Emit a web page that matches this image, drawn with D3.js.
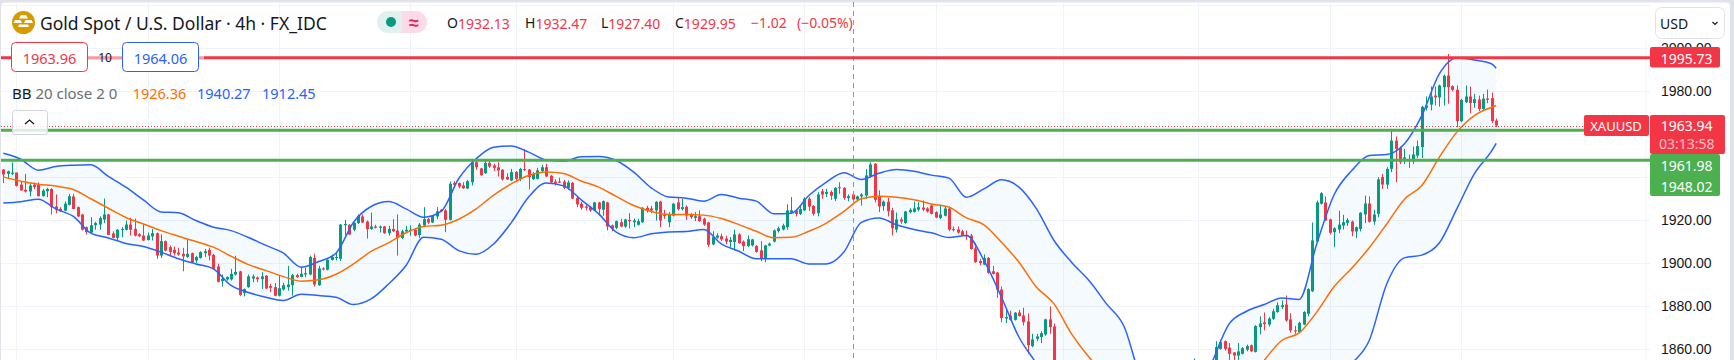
<!DOCTYPE html>
<html>
<head>
<meta charset="utf-8">
<script src="https://cdn.jsdelivr.net/npm/d3@7"></script>
<style>
html, body { margin: 0; padding: 0; background: #e0e3eb; overflow: hidden; }
svg { display: block; font-family: "Noto Sans", sans-serif; }
</style>
</head>
<body>
<script>
// CANDLES, one entry per 4h bar, null where the bar is below the visible range
const barOpen = [
1943.7,1941.7,1941.7,1942.3,1936.7,1934.3,1933.5,1936.6,1936.6,1931.3,
1933.6,1934.7,1926.5,1925.4,1924.6,1927.3,1931.2,1926.2,1922.8,1916.9,
1914.4,1917.8,1918.1,1920.5,1922.8,1914.0,1911.9,1915.7,1915.7,1918.1,
1916.1,1913.6,1913.0,1910.9,1912.6,1914.1,1903.7,1910.4,1907.6,1906.4,
1905.1,1904.5,1903.1,1904.8,1901.4,1902.6,1904.8,1906.4,1904.0,1898.6,
1891.8,1892.6,1892.6,1894.9,1896.3,1886.2,1889.0,1893.0,1893.5,1892.7,
1894.3,1889.5,1889.0,1885.0,1887.9,1889.0,1889.9,1894.6,1893.8,1894.9,
1894.9,1902.6,1889.9,1897.7,1897.1,1901.7,1902.6,1902.2,1917.8,1918.0,
1915.7,1918.8,1921.9,1919.5,1916.0,1917.2,1916.6,1917.2,1914.1,1916.1,
1915.3,1911.9,1914.9,1915.2,1915.7,1913.2,1917.7,1920.6,1919.1,1921.9,
1925.0,1924.7,1920.3,1937.4,1937.4,1936.3,1934.9,1937.8,1947.1,1944.2,
1942.0,1946.8,1945.6,1944.7,1943.6,1940.3,1938.6,1942.6,1939.4,1943.9,
1943.7,1939.2,1939.4,1943.0,1944.8,1940.8,1938.1,1938.1,1938.1,1935.2,
1937.5,1930.5,1927.8,1926.5,1926.2,1924.7,1928.4,1925.0,1928.4,1917.7,
1916.6,1919.2,1917.2,1920.3,1919.2,1918.0,1919.2,1925.9,1925.6,1924.7,
1928.8,1922.6,1919.2,1922.3,1928.4,1925.3,1926.4,1922.8,1921.2,1922.0,
1920.8,1919.1,1908.9,1912.0,1912.7,1911.6,1910.0,1910.0,1913.5,1910.2,
1908.1,1908.4,1908.2,1906.1,1902.3,1908.4,1910.2,1915.1,1915.8,1916.9,
1923.7,1924.7,1923.1,1924.7,1930.1,1926.8,1923.4,1933.6,1932.4,1933.3,
1930.1,1935.5,1935.2,1930.4,1932.1,1929.8,1931.2,1931.6,1940.5,1946.4,
1931.5,1926.7,1928.7,1924.7,1915.8,1920.5,1918.8,1923.9,1924.0,1925.1,
1926.0,1925.6,1927.0,1923.9,1921.2,1922.2,1925.6,1916.0,1915.8,1915.0,
1913.3,1913.0,1907.0,1901.1,1899.5,1902.6,1896.4,1895.8,1887.9,1874.4,
1875.7,1873.8,1877.2,1875.8,1873.0,1861.6,1865.0,1865.8,1867.0,1874.0,
1870.7,null,null,null,null,null,null,null,null,null,
null,null,null,null,null,null,null,null,null,null,
null,null,null,null,null,null,null,null,null,null,
null,null,1845.0,null,null,null,null,1850.0,1860.3,1863.9,
1860.9,1858.6,1857.2,1858.0,1859.9,1862.0,1858.9,1870.4,1872.6,1871.6,
1874.3,1877.4,1879.7,1880.9,1874.0,1868.9,1868.1,1871.6,1876.6,1887.1,
1910.2,1927.8,1928.4,1920.5,1914.6,1915.8,1917.7,1918.9,1919.5,1914.9,
1916.1,1922.8,1927.9,1919.5,1923.1,1940.2,1936.7,1944.0,1957.2,1953.8,
1948.7,1948.2,1947.6,1950.2,1954.1,1972.4,1973.9,1978.1,1977.3,1982.0,
1987.4,1982.5,1980.8,1966.2,1975.0,1977.7,1974.6,1976.3,1971.9,1976.7,
1976.9,1966.5];
const barHigh = [
1944.0,1943.2,1947.0,1942.3,1938.3,1941.7,1937.4,1937.7,1937.7,1934.7,
1935.2,1935.0,1932.1,1926.2,1928.8,1932.4,1932.4,1926.5,1923.1,1917.2,
1921.5,1919.4,1921.9,1930.2,1923.1,1915.0,1916.0,1916.9,1920.0,1921.2,
1920.9,1914.1,1918.1,1914.4,1916.1,1914.4,1913.5,1910.7,1908.4,1907.9,
1907.3,1907.3,1911.3,1905.1,1903.6,1905.7,1906.8,1907.3,1904.5,1899.9,
1894.9,1894.0,1897.5,1903.6,1896.6,1888.4,1894.9,1894.9,1894.0,1896.0,
1894.6,1890.6,1890.9,1894.4,1891.0,1898.9,1895.2,1895.2,1898.6,1898.0,
1903.7,1904.5,1898.9,1898.3,1902.0,1904.2,1905.3,1918.4,1920.3,1918.4,
1919.2,1922.8,1922.8,1920.0,1923.7,1918.0,1917.7,1917.5,1917.5,1920.6,
1922.8,1915.7,1917.5,1917.7,1916.0,1918.8,1926.2,1921.2,1922.5,1926.2,
1925.4,1925.4,1938.1,1938.3,1937.7,1937.8,1938.9,1948.7,1949.2,1944.5,
1947.9,1947.9,1946.4,1947.1,1943.9,1942.0,1944.0,1943.0,1944.5,1953.3,
1944.0,1942.5,1944.5,1945.9,1946.4,1941.2,1939.2,1939.9,1938.9,1938.6,
1938.0,1931.2,1928.7,1927.5,1926.8,1928.7,1928.7,1929.3,1928.7,1918.1,
1920.0,1920.8,1920.8,1923.4,1920.9,1920.8,1926.2,1926.8,1926.8,1929.0,
1929.2,1925.0,1923.9,1928.1,1930.5,1930.1,1927.0,1923.4,1923.9,1924.7,
1921.3,1919.4,1915.0,1914.1,1913.8,1912.9,1912.3,1915.7,1914.1,1910.7,
1913.0,1911.5,1908.5,1910.4,1908.7,1909.8,1915.8,1917.2,1918.5,1927.5,
1930.9,1925.3,1926.8,1930.9,1930.9,1927.1,1933.2,1934.7,1934.7,1934.0,
1935.5,1937.8,1935.5,1932.1,1932.4,1931.6,1932.7,1943.9,1947.0,1946.7,
1934.0,1929.3,1930.5,1925.9,1923.7,1921.5,1924.5,1925.7,1928.7,1928.5,
1929.3,1926.2,1927.3,1924.3,1927.3,1926.8,1926.5,1917.2,1917.2,1915.7,
1915.3,1913.8,1909.5,1902.2,1904.2,1903.0,1898.9,1896.1,1889.3,1878.5,
1878.0,1877.4,1878.5,1879.4,1876.8,1867.3,1867.3,1868.5,1874.3,1880.0,
1872.1,null,null,null,null,null,null,null,null,null,
null,null,null,null,null,null,null,null,null,null,
null,null,null,null,null,null,null,null,null,null,
null,null,1855.8,null,null,null,null,1863.9,1864.5,1864.2,
1863.0,1858.8,1863.0,1861.1,1862.3,1862.3,1871.3,1875.4,1877.2,1875.0,
1878.9,1881.9,1882.8,1885.1,1876.9,1871.0,1872.9,1877.8,1888.5,1919.1,
1929.3,1933.2,1931.2,1920.8,1916.9,1924.6,1922.6,1921.1,1920.0,1917.2,
1923.9,1931.6,1931.2,1925.0,1940.2,1941.7,1944.8,1962.6,1959.1,1954.4,
1953.3,1950.7,1954.4,1957.2,1973.3,1977.7,1982.3,1982.3,1983.2,1987.9,
1997.5,1982.8,1982.8,1976.6,1982.8,1982.3,1978.9,1978.1,1978.9,1980.9,
1979.5,1967.4];
const barLow = [
1937.4,1939.8,1941.1,1935.8,1934.0,1933.0,1931.3,1934.7,1931.2,1931.2,
1930.9,1922.8,1923.4,1924.0,1924.3,1927.0,1925.3,1921.6,1915.4,1913.5,
1914.1,1915.7,1915.7,1918.8,1913.2,1911.8,1910.7,1912.2,1915.4,1913.0,
1912.6,1912.2,1910.4,1910.7,1910.7,1902.2,1902.6,1905.7,1903.7,1903.7,
1903.6,1896.4,1902.6,1900.3,1900.2,1902.3,1903.0,1901.4,1897.4,1891.2,
1889.3,1892.1,1892.1,1894.4,1885.0,1884.7,1888.7,1891.3,1891.3,1888.2,
1888.1,1886.7,1884.8,1884.7,1887.4,1887.4,1885.1,1893.3,1893.6,1893.6,
1894.6,1889.3,1889.6,1896.8,1896.8,1901.4,1901.4,1901.1,1913.0,1913.2,
1915.0,1918.4,1918.8,1911.6,1915.7,1916.3,1914.4,1913.8,1913.0,1914.7,
1903.7,1911.3,1914.4,1912.9,1912.6,1911.9,1917.2,1918.4,1918.8,1920.6,
1924.0,1914.6,1920.0,1935.2,1934.9,1934.7,1934.6,1936.3,1943.6,1940.8,
1941.7,1944.5,1943.0,1940.5,1938.6,1938.9,1938.3,1937.8,1938.3,1943.0,
1934.4,1938.9,1939.1,1942.5,1940.2,1937.4,1936.3,1937.4,1934.6,1934.3,
1929.9,1926.2,1925.0,1924.7,1924.0,1924.4,1922.2,1922.2,1915.4,1915.0,
1916.0,1916.9,1916.6,1916.3,1916.9,1917.7,1918.9,1923.7,1923.4,1920.0,
1916.9,1920.8,1916.9,1921.9,1924.7,1924.7,1920.3,1920.8,1919.7,1919.4,
1917.5,1907.6,1908.5,1911.5,1910.4,1908.9,1907.3,1906.1,1909.2,1905.8,
1907.6,1907.9,1905.1,1901.1,1900.6,1908.1,1909.8,1914.4,1915.4,1915.7,
1923.4,1921.9,1922.5,1924.4,1924.4,1922.2,1921.9,1930.1,1930.9,1929.6,
1929.0,1932.4,1929.6,1929.0,1927.1,1929.0,1927.0,1930.1,1939.9,1928.4,
1923.9,1924.6,1921.9,1913.0,1914.4,1918.5,1918.5,1923.4,1923.7,1924.3,
1924.3,1923.7,1922.8,1921.1,1920.6,1921.9,1915.0,1914.9,1913.8,1912.7,
1911.0,1906.4,1900.3,1899.2,1899.2,1895.2,1894.9,1884.0,1872.6,1872.3,
1873.5,1873.5,1875.4,1871.2,1858.0,1861.1,1863.9,1863.0,1866.4,1867.3,
1840.0,null,null,null,null,null,null,null,null,null,
null,null,null,null,null,null,null,null,null,null,
null,null,null,null,null,null,null,null,null,null,
null,null,1842.0,null,null,null,null,1848.0,1859.9,1859.5,
1854.1,1854.1,1854.1,1857.7,1859.2,1858.9,1858.6,1867.0,1868.9,1870.7,
1873.8,1877.1,1878.9,1872.9,1867.9,1867.3,1867.6,1871.3,1875.4,1886.7,
1909.8,1927.4,1919.7,1913.5,1907.6,1914.1,1915.8,1917.5,1912.7,1911.8,
1914.9,1918.8,1919.1,1918.0,1921.5,1934.7,1934.7,1942.5,1937.8,1946.3,
1946.3,1944.5,1946.3,1949.1,1949.1,1971.2,1971.2,1973.5,1973.0,1973.5,
1974.3,1980.1,1963.4,1965.7,1974.6,1969.9,1972.4,1970.8,1971.4,1974.6,
1965.3,1963.4];
const barClose = [
1941.4,1942.9,1942.3,1936.1,1934.0,1933.5,1936.3,1935.5,1931.3,1933.9,
1934.7,1926.2,1925.0,1924.3,1927.8,1931.3,1925.4,1921.9,1915.7,1914.6,
1917.8,1918.8,1921.1,1922.8,1913.3,1911.9,1915.7,1916.1,1918.1,1915.7,
1913.0,1912.7,1910.7,1913.0,1914.1,1903.7,1910.4,1906.0,1905.4,1904.8,
1904.2,1903.3,1904.5,1900.5,1903.0,1905.3,1905.7,1903.7,1897.5,1891.5,
1892.9,1893.7,1895.2,1896.1,1885.3,1888.1,1894.0,1894.0,1892.7,1894.0,
1888.4,1888.7,1885.0,1888.5,1889.9,1890.2,1894.6,1893.7,1895.2,1895.5,
1903.0,1890.2,1897.7,1897.2,1901.7,1903.0,1903.0,1918.1,1918.4,1913.5,
1918.9,1922.2,1919.1,1916.0,1917.2,1916.6,1917.2,1914.1,1916.1,1915.0,
1911.9,1915.0,1915.7,1915.7,1913.0,1918.1,1920.6,1919.1,1922.2,1924.3,
1924.3,1920.3,1937.1,1936.6,1935.8,1935.0,1938.3,1947.1,1944.8,1941.1,
1946.8,1945.1,1944.5,1943.3,1939.1,1939.1,1942.5,1939.4,1944.0,1943.6,
1940.2,1941.7,1943.3,1944.8,1940.5,1937.7,1937.4,1937.7,1935.2,1937.7,
1930.2,1927.5,1925.9,1925.9,1924.7,1928.4,1925.4,1929.0,1917.2,1916.1,
1919.7,1917.2,1920.5,1919.7,1920.0,1919.7,1925.9,1924.7,1924.7,1928.7,
1920.0,1922.2,1922.6,1927.8,1925.3,1926.2,1922.3,1921.6,1922.0,1919.7,
1918.1,1908.7,1912.3,1913.0,1911.2,1910.2,1911.0,1913.5,1909.5,1908.1,
1911.3,1911.2,1905.4,1902.3,1908.4,1909.2,1915.4,1916.4,1917.7,1924.7,
1924.7,1923.1,1925.3,1930.1,1926.5,1923.1,1932.1,1932.1,1933.3,1931.5,
1935.2,1935.0,1930.5,1931.3,1929.8,1931.2,1932.1,1941.0,1946.1,1929.6,
1926.5,1928.8,1924.3,1916.4,1920.5,1919.5,1924.2,1925.0,1925.6,1926.2,
1925.1,1924.2,1923.1,1921.4,1922.8,1925.6,1915.8,1915.5,1914.4,1913.0,
1912.6,1906.7,1900.6,1900.2,1902.6,1895.7,1895.2,1887.8,1874.6,1875.1,
1873.8,1877.1,1875.5,1872.7,1862.0,1864.7,1866.1,1867.6,1874.0,1870.4,
1845.0,null,null,null,null,null,null,null,null,null,
null,null,null,null,null,null,null,null,null,null,
null,null,null,null,null,null,null,null,null,null,
null,null,1850.0,null,null,null,null,1861.1,1863.4,1860.3,
1858.0,1857.2,1859.1,1860.6,1861.6,1859.2,1870.9,1872.1,1871.8,1874.4,
1877.8,1880.6,1880.6,1873.5,1868.9,1868.5,1872.4,1877.4,1888.1,1910.7,
1928.4,1932.7,1920.0,1914.3,1916.4,1918.1,1919.2,1920.2,1914.9,1916.9,
1923.6,1927.9,1919.4,1922.8,1939.1,1936.7,1944.0,1957.2,1953.3,1947.1,
1949.4,1947.6,1950.7,1954.6,1972.9,1973.5,1977.7,1977.3,1982.8,1987.3,
1982.0,1980.8,1966.2,1976.1,1977.7,1974.6,1976.4,1971.9,1976.7,1976.1,
1966.2,1964.2];

// BOLLINGER BANDS, read every 4th bar plus the last one
const bbBars = d3.range(0, 341, 4).concat(341);
const bbUpper = [
1951.3,1948.5,1943.4,1945.1,1945.7,1945.9,1940.5,1935.5,1929.6,1924.0,1923.6,1920.0,1916.9,1915.3,1912.1,1908.4,1904.8,1898.3,1900.9,1904.8,1919.2,1926.5,1928.8,1925.4,1921.5,1924.2,
1939.4,1948.7,1954.1,1954.7,1951.8,1948.2,1947.6,1949.6,1949.8,1947.9,1942.5,1935.2,1930.9,1930.4,1929.0,1932.1,1930.4,1929.0,1923.1,1923.4,1931.6,1937.8,1942.2,1939.1,1942.0,
1943.7,1942.9,1941.1,1939.7,1930.8,1934.7,1938.9,1935.5,1925.4,1910.7,1900.6,1892.1,1881.2,1870.7,
1845.6,1835.0,1830.0,1835.0,1853.6,
1871.9,1877.8,1880.9,1884.0,1883.3,1909.1,1932.1,1943.2,1950.2,1950.7,1955.6,1968.8,1988.2,1995.6,1994.7,1992.8,1990.8];
const bbBasis = [
1940.3,1938.3,1936.9,1936.0,1934.4,1930.1,1925.7,1921.4,1918.4,1915.3,1912.7,1910.2,1907.6,1903.4,1899.5,1896.7,1893.9,1891.8,1892.4,1895.0,1899.8,1905.6,1909.6,1914.3,1917.2,1917.8,
1920.6,1925.4,1931.8,1937.0,1940.9,1942.6,1941.9,1938.4,1935.5,1931.2,1927.0,1924.2,1922.8,1922.8,1922.5,1920.9,1918.1,1915.0,1912.0,1912.2,1915.0,1918.8,1924.2,1930.1,1931.3,
1930.8,1929.6,1927.7,1926.2,1921.2,1918.0,1909.9,1900.6,1889.0,1881.2,1867.3,1856.4,
1848.0,1840.0,1834.0,1830.0,1828.0,1829.0,1832.0,1837.0,1844.0,
1854.9,1864.2,1867.7,1877.4,1889.3,1897.8,1907.3,1918.4,1929.8,1936.3,1949.4,1961.1,1968.8,1972.7,1973.5];
const bbLower = [
1928.1,1928.7,1929.9,1925.4,1921.9,1914.1,1911.9,1909.3,1907.9,1905.3,1902.2,1899.8,1897.5,1889.8,1886.5,1884.3,1882.8,1885.7,1885.1,1884.3,1880.9,1883.5,1890.5,1899.1,1912.2,1911.3,
1906.0,1904.3,1909.1,1918.9,1930.9,1937.4,1936.1,1929.6,1923.1,1914.6,1912.0,1913.8,1914.7,1914.9,1915.8,1909.1,1905.7,1902.2,1902.2,1902.2,1899.8,1899.8,1905.3,1919.1,1921.2,
1918.0,1915.8,1914.3,1912.1,1913.0,1901.4,1884.3,1865.7,1853.3,
1838.0,1825.0,1812.0,1800.0,1790.0,1785.0,1782.0,1784.0,1788.0,1794.0,1800.0,1806.0,1812.0,1818.0,1828.0,1835.0,1843.0,
1853.3,1864.2,1890.5,1902.6,1903.9,1909.5,1925.4,1941.7,1952.5,1955.9];

// AXIS AND LEVELS
const gridPrices = [2020, 2000, 1980, 1960, 1940, 1920, 1900, 1880, 1860];
const priceTicks = [2000, 1980, 1920, 1900, 1880, 1860];
const timeGridBars = [3, 33, 63, 93, 117, 153, 183, 213, 242, 273, 303, 333];
const crosshairBar = 194;
const redLevel = 1995.73;
const greenLevels = [1961.98, 1948.02];
const lastPrice = 1963.94;
const countdown = "03:13:58";

// LEGEND TEXTS
const titleText = "Gold Spot / U.S. Dollar \u00b7 4h \u00b7 FX_IDC";
const ohlcLabels = ["O", "H", "L", "C"];
const ohlcValues = ["1932.13", "1932.47", "1927.40", "1929.95"];
const ohlcChange = ["\u22121.02", "(\u22120.05%)"];
const bidAsk = ["1963.96", "10", "1964.06"];
const bbValues = ["1926.36", "1940.27", "1912.45"];

const upColor = "#089981", downColor = "#f23645", blue = "#2962ff", orange = "#ff6d00", green = "#4caf50";
const textColor = "#131722", gridColor = "#f0f3fa";

const svgwidth = 1734, svgheight = 360, plotRight = 1650;

const svg = d3.select("body").append("svg")
    .attr("width", svgwidth)
    .attr("height", svgheight);

// PAGE CARD
svg.append("rect").attr("width", svgwidth).attr("height", svgheight).attr("fill", "#e0e3eb");
svg.append("rect").attr("x", 1).attr("y", 2.5).attr("width", 1729).attr("height", 370)
    .attr("rx", 4).attr("fill", "#fff");

// SCALES
const X = d3.scaleLinear().domain([0, 341]).range([3.3, 1496.2]);
const Y = d3.scaleLinear().domain([1860, 1980]).range([349.5, 91.5]);

const defs = svg.append("defs");
defs.append("clipPath").attr("id", "axis-clip").append("rect")
    .attr("x", 1650).attr("y", 43).attr("width", 80).attr("height", 317);

// GRID
svg.append("g").selectAll("line").data(gridPrices).enter().append("line")
    .attr("x1", 1).attr("x2", plotRight)
    .attr("y1", d => Math.floor(Y(d)) + 0.5).attr("y2", d => Math.floor(Y(d)) + 0.5)
    .attr("stroke", gridColor);
svg.append("g").selectAll("line").data(timeGridBars).enter().append("line")
    .attr("x1", d => Math.round(X(d)) + 0.5).attr("x2", d => Math.round(X(d)) + 0.5)
    .attr("y1", 3).attr("y2", svgheight)
    .attr("stroke", gridColor);
svg.append("line").attr("x1", 1646).attr("x2", 1646).attr("y1", 40).attr("y2", svgheight)
    .attr("stroke", gridColor);

// BB FILL
const band = bbBars.map((b, i) => ({ bar: b, upper: bbUpper[i], basis: bbBasis[i], lower: bbLower[i] }));
svg.append("path").datum(band)
    .attr("d", d3.area().x(d => X(d.bar)).y0(d => Y(d.lower)).y1(d => Y(d.upper)).curve(d3.curveMonotoneX))
    .attr("fill", "#2196f3").attr("fill-opacity", 0.05);

// CANDLES
const candles = barOpen.map((o, i) => ({ i: i, o: o, h: barHigh[i], l: barLow[i], c: barClose[i] }))
    .filter(d => d.o !== null);
const candle = svg.append("g").selectAll("g").data(candles).enter().append("g")
    .attr("fill", d => d.c >= d.o ? upColor : downColor);
candle.append("rect")
    .attr("x", d => Math.round(X(d.i)))
    .attr("width", 1)
    .attr("y", d => Y(d.h))
    .attr("height", d => Y(d.l) - Y(d.h));
candle.append("rect")
    .attr("x", d => Math.round(X(d.i)) - 1)
    .attr("width", 3)
    .attr("y", d => Y(Math.max(d.o, d.c)))
    .attr("height", d => Math.max(1, Math.abs(Y(d.o) - Y(d.c))));

// BB LINES
[["upper", blue], ["lower", blue], ["basis", orange]].forEach(s => {
    svg.append("path").datum(band)
        .attr("d", d3.line().x(d => X(d.bar)).y(d => Y(d[s[0]])).curve(d3.curveMonotoneX))
        .attr("fill", "none").attr("stroke", s[1]).attr("stroke-width", 1.5);
});

// CROSSHAIR
svg.append("line")
    .attr("x1", Math.round(X(crosshairBar)) + 0.5).attr("x2", Math.round(X(crosshairBar)) + 0.5)
    .attr("y1", 2).attr("y2", svgheight)
    .attr("stroke", "#9598a1").attr("stroke-dasharray", "5,4");

// LAST PRICE AND LEVELS
svg.append("line").attr("x1", 1).attr("x2", 1584)
    .attr("y1", Math.round(Y(lastPrice)) + 0.5).attr("y2", Math.round(Y(lastPrice)) + 0.5)
    .attr("stroke", downColor).attr("stroke-dasharray", "1,2");
svg.append("line").attr("x1", 1).attr("x2", plotRight)
    .attr("y1", Y(redLevel)).attr("y2", Y(redLevel))
    .attr("stroke", downColor).attr("stroke-width", 3);
svg.selectAll(".green-level").data(greenLevels).enter().append("line").classed("green-level", true)
    .attr("x1", 1).attr("x2", d => d === greenLevels[0] ? 1584 : plotRight)
    .attr("y1", d => Y(d)).attr("y2", d => Y(d))
    .attr("stroke", green).attr("stroke-width", 3);

// PRICE AXIS
const axis = svg.append("g").attr("clip-path", "url(#axis-clip)")
    .append("g").attr("transform", "translate(1661,0)")
    .call(d3.axisRight(Y).tickValues(priceTicks).tickSize(0).tickPadding(0).tickFormat(d => d.toFixed(2)));
axis.select(".domain").remove();
axis.selectAll("text").attr("font-size", 14).attr("font-family", "inherit").attr("fill", textColor);

// TEXT HELPER
function label(x, y, str, size, color, anchor, weight){
    return svg.append("text").attr("x", x).attr("y", y).attr("font-size", size)
        .attr("fill", color).attr("text-anchor", anchor || "start")
        .attr("dominant-baseline", "central")
        .attr("font-weight", weight || 400).text(str);
}
function box(x, y, w, h, fill){
    return svg.append("rect").attr("x", x).attr("y", y).attr("width", w).attr("height", h)
        .attr("rx", 2).attr("fill", fill);
}

// PRICE TAGS
box(1650, 47, 70, 20.5, downColor);
label(1686.7, Y(redLevel) + 0.5, redLevel.toFixed(2), 14, "#fff", "middle");
box(1584, 115, 65, 21, downColor);
label(1616, 125.5, "XAUUSD", 13, "#fff", "middle");
box(1650, 115, 75, 39, downColor);
label(1686.7, 125.5, lastPrice.toFixed(2), 14, "#fff", "middle");
label(1686.7, 143.5, countdown, 14, "#fbc0c6", "middle");
box(1650, 154, 70, 42, green);
label(1686.7, 165, greenLevels[0].toFixed(2), 14, "#fff", "middle");
label(1686.7, 186, greenLevels[1].toFixed(2), 14, "#fff", "middle");

// USD SELECT
svg.append("rect").attr("x", 1655.5).attr("y", 7.5).attr("width", 69).attr("height", 31).attr("rx", 6)
    .attr("fill", "#fff").attr("stroke", "#e0e3eb");
label(1660, 23, "USD", 14, textColor);
svg.append("path").attr("d", "M1712.5,22 l2.5,2.5 l2.5,-2.5").attr("fill", "none").attr("stroke", textColor).attr("stroke-width", 1.2);

// LOGO
svg.append("circle").attr("cx", 23.5).attr("cy", 22.5).attr("r", 11.5).attr("fill", "#d99a00");
svg.append("path").attr("fill", "#fff")
    .attr("d", "M21,15 h5 l2,3.5 h-9 z M15,20 h5.5 l1.5,3 h-8.5 z M25.5,20 h6 l1.5,3 h-9 z M19,24.5 h9 l1,2.5 h-11 z");

// TITLE
label(40, 22.5, titleText, 17.5, textColor);

// STATUS PILL
svg.append("path").attr("d", "M388,11 a11,11 0 0 0 0,22 h14 v-22 z").attr("fill", "#dff2ef");
svg.append("path").attr("d", "M402,11 h14 a11,11 0 0 1 0,22 h-14 z").attr("fill", "#fbdbe5");
svg.append("circle").attr("cx", 391).attr("cy", 22).attr("r", 5).attr("fill", upColor);
label(414, 22, "\u2248", 18, "#e91e63", "middle", 700);

// OHLC
const ohlcX = [447, 525, 601, 675];
ohlcLabels.forEach((d, i) => {
    const t = label(ohlcX[i], 22.5, d, 14, textColor);
    t.append("tspan").attr("fill", downColor).text(ohlcValues[i]);
});
label(751, 22.5, ohlcChange[0], 14, downColor);
label(797, 22.5, ohlcChange[1], 14, downColor);

// BID ASK
svg.append("rect").attr("x", 88).attr("y", 55).attr("width", 34).attr("height", 4).attr("fill", "#fff").attr("opacity", 0.5);
svg.append("rect").attr("x", 199).attr("y", 55).attr("width", 5).attr("height", 4).attr("fill", "#fff").attr("opacity", 0.5);
svg.append("rect").attr("x", 11.5).attr("y", 42.5).attr("width", 76).attr("height", 29).attr("rx", 4)
    .attr("fill", "#fff").attr("stroke", downColor);
label(49.5, 57.5, bidAsk[0], 14.5, downColor, "middle");
label(105, 57, bidAsk[1], 12, textColor, "middle");
svg.append("rect").attr("x", 122.5).attr("y", 42.5).attr("width", 76).attr("height", 29).attr("rx", 4)
    .attr("fill", "#fff").attr("stroke", blue);
label(160.5, 57.5, bidAsk[2], 14.5, blue, "middle");

// BB LEGEND
const bb = label(12, 92.5, "BB", 15, textColor);
bb.append("tspan").attr("fill", "#6a6d78").text(" 20 close 2 0");
label(132.7, 92.5, bbValues[0], 14.5, orange);
label(197, 92.5, bbValues[1], 14.5, blue);
label(262, 92.5, bbValues[2], 14.5, blue);

// COLLAPSE BUTTON
svg.append("rect").attr("x", 12.5).attr("y", 110.5).attr("width", 35).attr("height", 24).attr("rx", 3)
    .attr("fill", "#fff").attr("fill-opacity", 0.8).attr("stroke", "#d1d4dc");
svg.append("path").attr("d", "M25,124 l4.5,-4 l4.5,4").attr("fill", "none").attr("stroke", textColor).attr("stroke-width", 1.3);
</script>
</body>
</html>
